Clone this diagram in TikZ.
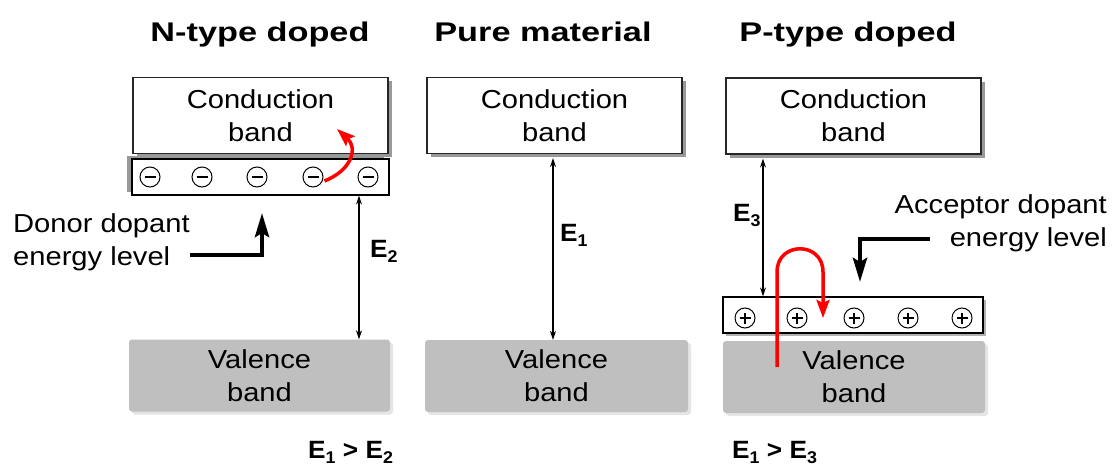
\documentclass[tikz,border=0pt]{standalone}
\usepackage{fontspec}
\setmainfont{Liberation Sans}[FakeStretch=1.12]
\newfontfamily\titlefont{Liberation Sans}[FakeStretch=1.27]
\newfontfamily\efont{Liberation Sans}[FakeStretch=1.05]
\usetikzlibrary{arrows.meta,shadows}
\newcommand{\Esub}[1]{E\raisebox{-0.22em}{\fontsize{17}{17}\selectfont #1}}
\tikzset{
  txt/.style={font=\fontsize{26}{33}\selectfont},
  ttl/.style={font=\titlefont\bfseries\fontsize{27}{27}\selectfont, inner sep=0pt},
  elab/.style={font=\efont\bfseries\fontsize{25}{25}\selectfont, inner sep=0pt},
  cband/.style={draw=black!85, line width=1.3pt, fill=white, minimum width=255pt,
    minimum height=76pt, align=center, txt, inner sep=0pt,
    drop shadow={shadow xshift=4pt,shadow yshift=-4pt,fill=black!40,opacity=1}},
  vband/.style={fill=black!25, rounded corners=3pt, minimum height=72pt,
    align=center, txt, inner sep=0pt,
    drop shadow={shadow xshift=3pt,shadow yshift=-3pt,fill=black!10,opacity=1}},
  lvl/.style={draw=black, line width=1.3pt, fill=white, minimum height=36pt, inner sep=0pt},
  minuscirc/.style={circle, draw, line width=1pt, minimum size=20pt, inner sep=0pt, fill=white,
    path picture={\draw[line width=2.2pt] ([xshift=-5.5pt]path picture bounding box.center) -- ([xshift=5.5pt]path picture bounding box.center);}},
  pluscirc/.style={circle, draw, line width=1pt, minimum size=20pt, inner sep=0pt, fill=white,
    path picture={\draw[line width=1.6pt] ([xshift=-5.5pt]path picture bounding box.center) -- ([xshift=5.5pt]path picture bounding box.center)
      ([yshift=-5.5pt]path picture bounding box.center) -- ([yshift=5.5pt]path picture bounding box.center);}},
  gap/.style={line width=1.2pt, {Stealth[length=9pt,width=6pt]}-{Stealth[length=9pt,width=6pt]}},
  pointer/.style={line width=4.5pt, -{Stealth[length=24pt,width=14pt,inset=4pt]}},
  redarrow/.style={red, line width=3.5pt, -{Stealth[length=18pt,width=13pt,inset=3pt]}},
  sideTxt/.style={txt, inner sep=0pt}
}
\begin{document}
\begin{tikzpicture}[x=1pt,y=-1pt]
\useasboundingbox (0,0) rectangle (1113,465);

% titles
\node[ttl, anchor=base] (t1) at (260,42) {N-type doped};
\node[ttl, anchor=base] (t2) at (543,42) {Pure material};
\node[ttl, anchor=base] (t3) at (848,42) {P-type doped};

% N-type
\node[cband] (nc) at (260.5,115.5) {Conduction\\band};
\node[lvl, minimum width=257pt,
  drop shadow={shadow xshift=-5pt,shadow yshift=3pt,fill=black!40,opacity=1}] (nd) at (260.5,177) {};
\foreach \i/\x in {1/150,2/202,3/257,4/313,5/368}
  \node[minuscirc] (m\i) at (\x,177) {};
\node[vband, minimum width=261pt] (nv) at (259.5,375.5) {Valence\\band};

\coordinate (e2x) at (359,0);
\draw[gap] (e2x |- nd.south) -- (e2x |- nv.north);
\node[elab, anchor=base west] (e2) at (370,257) {\Esub{2}};

\node[sideTxt, anchor=north west, align=left] (dtxt) at (13,213) {Donor dopant\\energy level};
\coordinate (da) at (190,255);
\coordinate (dtip) at (262,213);
\draw[pointer] (da) -| (dtip);

\coordinate (nred) at (337,129);
\draw[redarrow] ([xshift=1pt,yshift=-4pt]m4.east) .. controls (352,170) and (358,148) .. (nred);

% Pure
\node[cband] (pc) at (554.5,115.5) {Conduction\\band};
\node[vband, minimum width=263pt] (pv) at (556.5,376) {Valence\\band};
\coordinate (e1x) at (553,0);
\draw[gap] ([yshift=-4pt]e1x |- pc.south) -- (e1x |- pv.north);
\node[elab, anchor=base west] (e1) at (560,241) {\Esub{1}};

% P-type
\node[cband] (qc) at (853.5,116) {Conduction\\band};
\node[vband, minimum width=262pt] (qv) at (854,377) {Valence\\band};
\node[lvl, minimum width=260pt,
  drop shadow={shadow xshift=3pt,shadow yshift=-3pt,fill=black!30,opacity=1}] (qa) at (853,315) {};
\foreach \i/\x in {1/745,2/797,3/854,4/908,5/962}
  \node[pluscirc] (p\i) at (\x,318) {};
\coordinate (e3x) at (763,0);
\draw[gap] ([yshift=-4pt]e3x |- qc.south) -- (e3x |- qa.north);
\node[elab, anchor=base west] (e3) at (733,221) {\Esub{3}};

\node[sideTxt, anchor=north east, align=right] (atxt) at (1107,194) {Acceptor dopant\\energy level};
\coordinate (aa) at (930,239);
\coordinate (atip) at (860,282);
\draw[pointer] (aa) -| (atip);

\coordinate (r0) at (777,367);
\coordinate (r1) at (777,272);
\coordinate (r2) at (823,272);
\coordinate (r3) at (823,318);
\draw[redarrow] (r0) -- (r1) .. controls (777,241) and (823,241) .. (r2) -- (r3);

% relations
\node[elab, anchor=base west] (rel1) at (308,458) {\Esub{1} > \Esub{2}};
\node[elab, anchor=base west] (rel2) at (732,458) {\Esub{1} > \Esub{3}};
\end{tikzpicture}
\end{document}
